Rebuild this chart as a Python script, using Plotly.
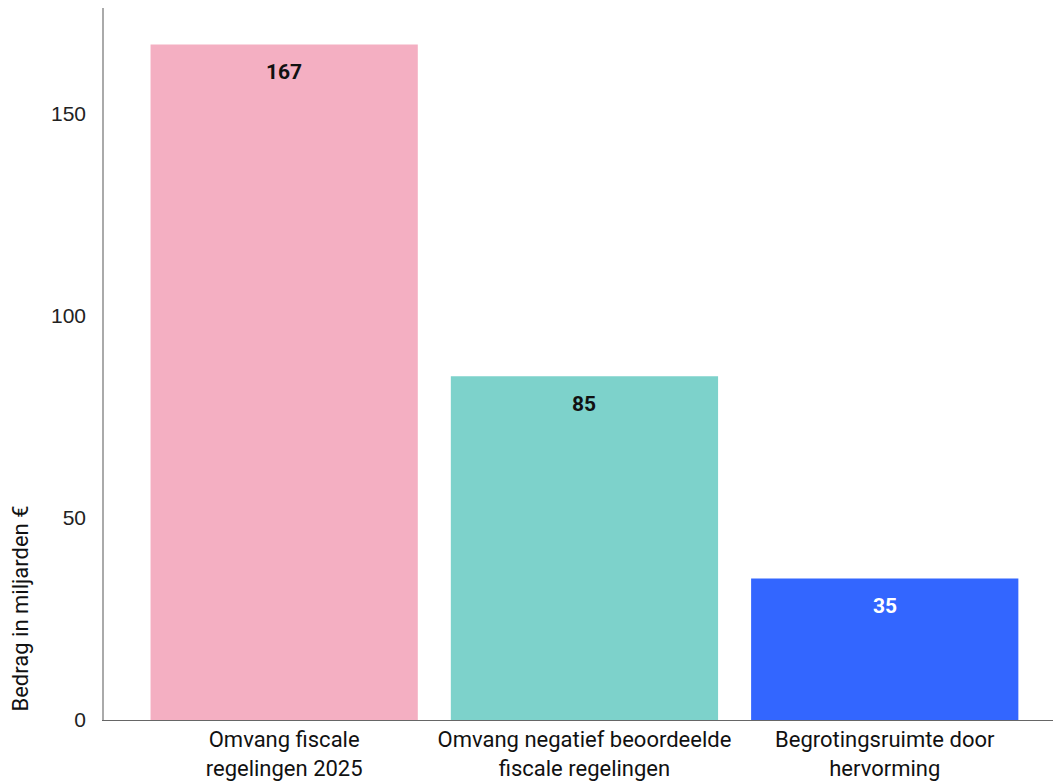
import plotly.graph_objects as go

categories = ["Omvang fiscale<br>regelingen 2025",
              "Omvang negatief beoordeelde<br>fiscale regelingen",
              "Begrotingsruimte door<br>hervorming"]
values = [167, 85, 35]
bar_colors = ["#F4AFC2", "#7DD2CB", "#3366FF"]
label_colors = ["#111111", "#111111", "#FFFFFF"]
y_title = "Bedrag in miljarden €"
y_ticks = [0, 50, 100, 150]

fig = go.Figure()
fig.add_trace(go.Bar(
    x=list(range(len(categories))), y=values,
    marker=dict(color=bar_colors, line=dict(width=0)),
    width=0.89, hoverinfo="skip",
))

for i, (v, c) in enumerate(zip(values, label_colors)):
    fig.add_annotation(x=i, y=v, xref="x", yref="y", text=f"<b>{v}</b>",
                       showarrow=False, yanchor="top", yshift=-14,
                       font=dict(family="Roboto", size=21, color=c))

fig.add_annotation(x=0, y=0, xref="paper", yref="y", text=y_title, textangle=-90,
                   showarrow=False, xanchor="right", yanchor="bottom", xshift=-70, yshift=6,
                   font=dict(family="Roboto", size=22, color="#111111"))

# the page body has an 8px margin; compensate so the plot area lands where the reference has it
fig.update_layout(
    width=1053, height=773,
    margin=dict(l=96, r=0, t=0, b=61, autoexpand=False),
    paper_bgcolor="white", plot_bgcolor="white",
    showlegend=False,
    xaxis=dict(range=[-0.6, 2.587], tickvals=list(range(len(categories))), ticktext=categories,
               showline=True, linecolor="#666666", linewidth=1, ticks="", showgrid=False,
               zeroline=False, automargin=False,
               tickfont=dict(family="Roboto", size=22, color="#111111")),
    yaxis=dict(range=[0, 176], tickvals=y_ticks, showline=True, linecolor="#AAAAAA",
               linewidth=1.5, ticks="", showgrid=False, zeroline=False, ticklabelstandoff=12,
               automargin=False,
               tickfont=dict(family="Liberation Sans, Arial", size=21, color="#222222")),
)

fig.write_html("out.html")
